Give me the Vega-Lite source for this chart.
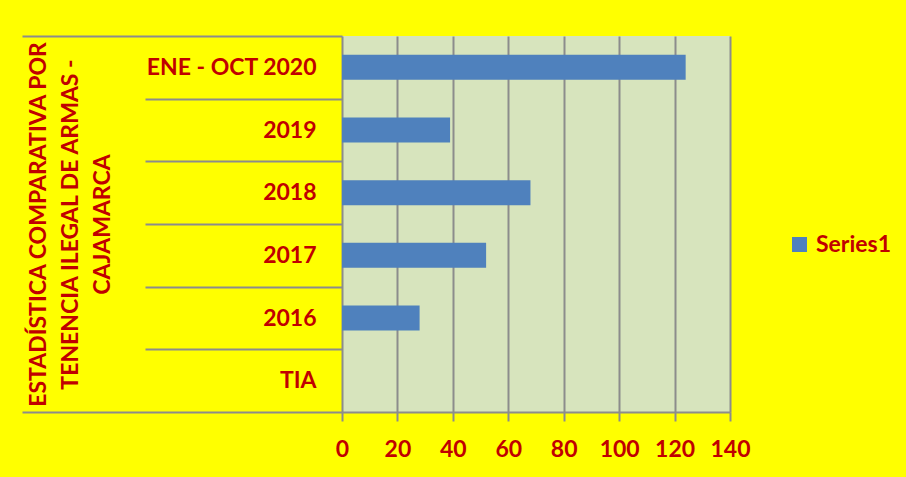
{
  "$schema": "https://vega.github.io/schema/vega-lite/v6.json",
  "width": 388,
  "height": 376,
  "autosize": {"type": "none"},
  "padding": {"left": 342, "top": 36, "right": 176, "bottom": 65},
  "background": "#FFFF00",
  "config": {"view": {"fill": "#D7E4BD", "stroke": null}, "font": "Lato"},
  "data": {
    "values": [
      {"periodo": "ENE - OCT 2020", "valor": 124, "serie": "Series1"},
      {"periodo": "2019", "valor": 39, "serie": "Series1"},
      {"periodo": "2018", "valor": 68, "serie": "Series1"},
      {"periodo": "2017", "valor": 52, "serie": "Series1"},
      {"periodo": "2016", "valor": 28, "serie": "Series1"},
      {"periodo": "TIA", "valor": 0, "serie": "Series1"}
    ]
  },
  "mark": {"type": "bar", "height": {"band": 0.4}},
  "encoding": {
    "y": {
      "field": "periodo",
      "type": "nominal",
      "sort": null,
      "scale": {"paddingInner": 0, "paddingOuter": 0},
      "axis": {
        "title": ["ESTADÍSTICA COMPARATIVA POR", "TENENCIA ILEGAL DE ARMAS -", "CAJAMARCA"],
        "domain": false,
        "grid": false,
        "tickBand": "extent",
        "tickColor": "#8C8C8C",
        "tickWidth": 2,
        "tickSize": {"condition": {"test": "datum.value === 'TIA' || datum.extra", "value": 320}, "value": 197},
        "labelPadding": {"condition": {"test": "datum.value === 'TIA'", "value": -294}, "value": -171},
        "labelFont": "Lato",
        "labelFontSize": 23,
        "labelFontWeight": "bold",
        "labelColor": "#C00000",
        "titleFont": "Lato",
        "titleFontSize": 23,
        "titleFontWeight": "bold",
        "titleColor": "#C00000",
        "titleLineHeight": 32,
        "titlePadding": 28
      }
    },
    "x": {
      "field": "valor",
      "type": "quantitative",
      "scale": {"domain": [0, 140], "nice": false},
      "axis": {
        "values": [0, 20, 40, 60, 80, 100, 120, 140],
        "title": null,
        "grid": true,
        "gridColor": "#8C8C8C",
        "gridWidth": 2,
        "domainColor": "#8C8C8C",
        "domainWidth": 2,
        "tickColor": "#8C8C8C",
        "tickWidth": 2,
        "tickSize": 9,
        "labelFont": "Lato",
        "labelFontSize": 23,
        "labelFontWeight": "bold",
        "labelColor": "#C00000",
        "labelPadding": 17,
        "labelFlush": false
      }
    },
    "color": {
      "field": "serie",
      "type": "nominal",
      "scale": {"range": ["#4F81BD"]},
      "legend": {
        "title": null,
        "orient": "none",
        "legendX": 446,
        "legendY": 197,
        "padding": 0,
        "symbolType": "square",
        "symbolSize": 225,
        "symbolStrokeWidth": 0,
        "labelFont": "Lato",
        "labelFontSize": 23,
        "labelFontWeight": "bold",
        "labelColor": "#C00000",
        "labelOffset": 5
      }
    }
  }
}
